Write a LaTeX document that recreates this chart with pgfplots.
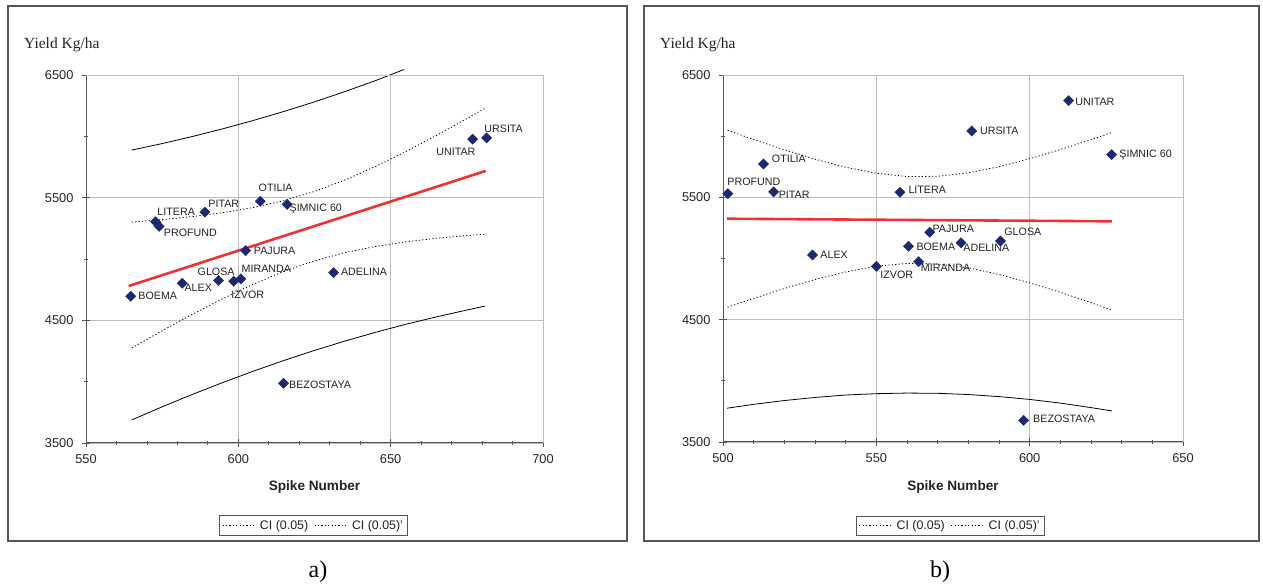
\documentclass[border=0pt]{standalone}
\usepackage{pgfplots}
\pgfplotsset{compat=1.18}
\usepackage{fontspec}
\setmainfont{Liberation Sans}
\newfontfamily\serif{Liberation Serif}
\definecolor{navy}{RGB}{30,40,110}
\definecolor{redl}{RGB}{238,50,50}
\definecolor{gridc}{RGB}{190,190,190}
\definecolor{axc}{RGB}{85,85,85}
\definecolor{txt}{RGB}{35,35,35}
\pgfplotsset{
  panel/.style={
    scale only axis, clip=false,
    axis x line*=bottom, axis y line*=left,
    axis line style={axc, line width=1pt},
    ymin=3500, ymax=6500,
    ytick={3500,4500,5500,6500}, minor ytick={4000,5000,6000},
    minor x tick num=4,
    grid=major, major grid style={gridc, line width=0.9pt},
    tick align=center, major tick length=8pt, minor tick length=4pt,
    tick style={axc, line width=0.8pt},
    /pgf/number format/assume math mode=true,
    /pgf/number format/1000 sep={},
    ticklabel style={font=\fontsize{12.8}{14}\selectfont, text=txt},
    yticklabel style={xshift=-5pt},
    xticklabel style={yshift=-4pt},
    legend columns=2,
    legend style={draw=axc, line width=0.8pt, font=\fontsize{12.4}{14}\selectfont, text=txt,
      anchor=center, inner sep=2.5pt, column sep=4pt},
    legend image code/.code={\draw[#1] (0pt,0pt) -- (31pt,0pt);},
  },
  dotci/.style={black, line width=0.8pt, dash pattern=on 1.2pt off 2.2pt},
  solci/.style={black, line width=0.8pt, forget plot},
  regl/.style={redl, line width=2.6pt, forget plot},
  pts/.style={only marks, forget plot, mark=square*, mark size=3.6pt,
    mark options={rotate=45, fill=navy, draw=navy},
    point meta=explicit symbolic,
    visualization depends on={\thisrow{dx} \as \dx},
    visualization depends on={\thisrow{dy} \as \dy},
    nodes near coords,
    nodes near coords style={anchor=center, xshift=\dx pt, yshift=\dy pt,
      font=\fontsize{10.7}{12}\selectfont, text=txt, inner sep=0pt}},
}
\begin{document}
\begin{tikzpicture}[x=1pt,y=1pt]
\path (0,0) rectangle (1263,588);
\draw[axc, line width=1.4pt] (8,47) rectangle (627,582);
\draw[axc, line width=1.4pt] (644,47) rectangle (1259,582);
\node[font=\serif\fontsize{24}{26}\selectfont] at (318,16) {a)};
\node[font=\serif\fontsize{24}{26}\selectfont] at (940,16) {b)};
\node[anchor=west, inner sep=0pt, font=\serif\fontsize{15.5}{17}\selectfont, text=txt] at (24,543) {Yield Kg/ha};
\node[anchor=west, inner sep=0pt, font=\serif\fontsize{15.5}{17}\selectfont, text=txt] at (660,543) {Yield Kg/ha};
\node[font=\bfseries\fontsize{13.6}{15}\selectfont, text=txt] at (314.5,101) {Spike Number};
\node[font=\bfseries\fontsize{13.6}{15}\selectfont, text=txt] at (953,101) {Spike Number};

% ---------- panel a ----------
\begin{axis}[panel, at={(86pt,145pt)}, anchor=south west, width=457pt, height=368pt,
  xmin=550, xmax=700, xtick={550,600,650,700},
  legend style={at={(0.498,-0.224)}}]
\addplot[dotci] coordinates {(565,5301) (575,5321) (585,5346) (595,5378) (605,5420) (615,5476) (625,5551) (635,5644) (645,5754) (655,5876) (665,6007) (675,6145) (681,6229)};
\addlegendentry{CI (0.05)}
\addplot[dotci] coordinates {(565,4275) (575,4415) (585,4550) (595,4678) (605,4796) (615,4900) (625,4985) (635,5052) (645,5102) (655,5140) (665,5169) (675,5191) (681,5203)};
\addlegendentry{CI (0.05)'}
\addplot[solci] coordinates {(565,5888) (575,5941) (585,5999) (595,6062) (605,6130) (615,6203) (625,6281) (635,6365) (645,6454) (654.4,6545)};
\addplot[solci] coordinates {(565,3688) (575,3795) (585,3897) (595,3994) (605,4086) (615,4173) (625,4255) (635,4331) (645,4402) (655,4468) (665,4528) (675,4584) (681,4616)};
\addplot[regl] coordinates {(564,4780) (681.2,5718)};
\draw[gridc, line width=0.9pt] (rel axis cs:0,1) -- (rel axis cs:1,1) -- (rel axis cs:1,0);
\addplot[pts] table[meta=label] {
x y dx dy label
681.5 5988 17 9.4 URSITA
676.9 5977 -16.7 -13 UNITAR
607.2 5470 15.4 14 OTILIA
616 5445 28.7 -4.7 {ŞIMNIC 60}
589 5382 19 8.4 PITAR
572.8 5304 20.7 9.6 LITERA
574 5265 31.3 -6.3 PROFUND
602.4 5069 29 0 PAJURA
600.8 4838 25.6 10 MIRANDA
593.5 4824 -2.4 8.7 GLOSA
598.5 4818 14 -13.3 IZVOR
581.6 4802 16 -4.6 ALEX
564.7 4696 27 0 BOEMA
631.3 4889 30.3 1 ADELINA
614.8 3987 36.7 -1.7 BEZOSTAYA
};
\end{axis}

% ---------- panel b ----------
\begin{axis}[panel, at={(723pt,146pt)}, anchor=south west, width=460pt, height=367pt,
  xmin=500, xmax=650, xtick={500,550,600,650},
  legend style={at={(0.494,-0.228)}}]
\addplot[dotci] coordinates {(501.5,6048) (510,5972) (520,5889) (530,5812) (540,5746) (550,5697) (560,5670) (570,5672) (580,5700) (590,5750) (600,5815) (610,5890) (620,5971) (626.8,6030)};
\addlegendentry{CI (0.05)}
\addplot[dotci] coordinates {(501.5,4602) (510,4674) (520,4755) (530,4828) (540,4890) (550,4937) (560,4960) (570,4955) (580,4924) (590,4870) (600,4801) (610,4724) (620,4639) (626.8,4578)};
\addlegendentry{CI (0.05)'}
\addplot[solci] coordinates {(501.3,3776) (510,3808) (520,3839) (530,3864) (540,3884) (550,3895) (560,3900) (570,3898) (580,3888) (590,3871) (600,3848) (610,3818) (620,3781) (626.8,3754)};
\addplot[regl] coordinates {(501.3,5325) (626.8,5304)};
\draw[gridc, line width=0.9pt] (rel axis cs:0,1) -- (rel axis cs:1,1) -- (rel axis cs:1,0);
\addplot[pts] table[meta=label] {
x y dx dy label
612.7 6290 26.3 -1.3 UNITAR
581.1 6042 27.6 0.7 URSITA
626.7 5849 34 -0.6 {ŞIMNIC 60}
513.2 5772 25.4 5 OTILIA
501.6 5530 26 11.7 PROFUND
516.5 5544 20.6 -3.3 PITAR
557.7 5541 27.3 2 LITERA
567.4 5214 23.6 3 PAJURA
560.5 5100 27.3 -0.7 BOEMA
577.6 5129 25.3 -5.6 ADELINA
590.5 5143 22.3 8.7 GLOSA
529.2 5029 21.6 0 ALEX
550 4936 20.4 -8.7 IZVOR
563.8 4974 27 -6.6 MIRANDA
598 3677 40.6 2 BEZOSTAYA
};
\end{axis}
\end{tikzpicture}
\end{document}
